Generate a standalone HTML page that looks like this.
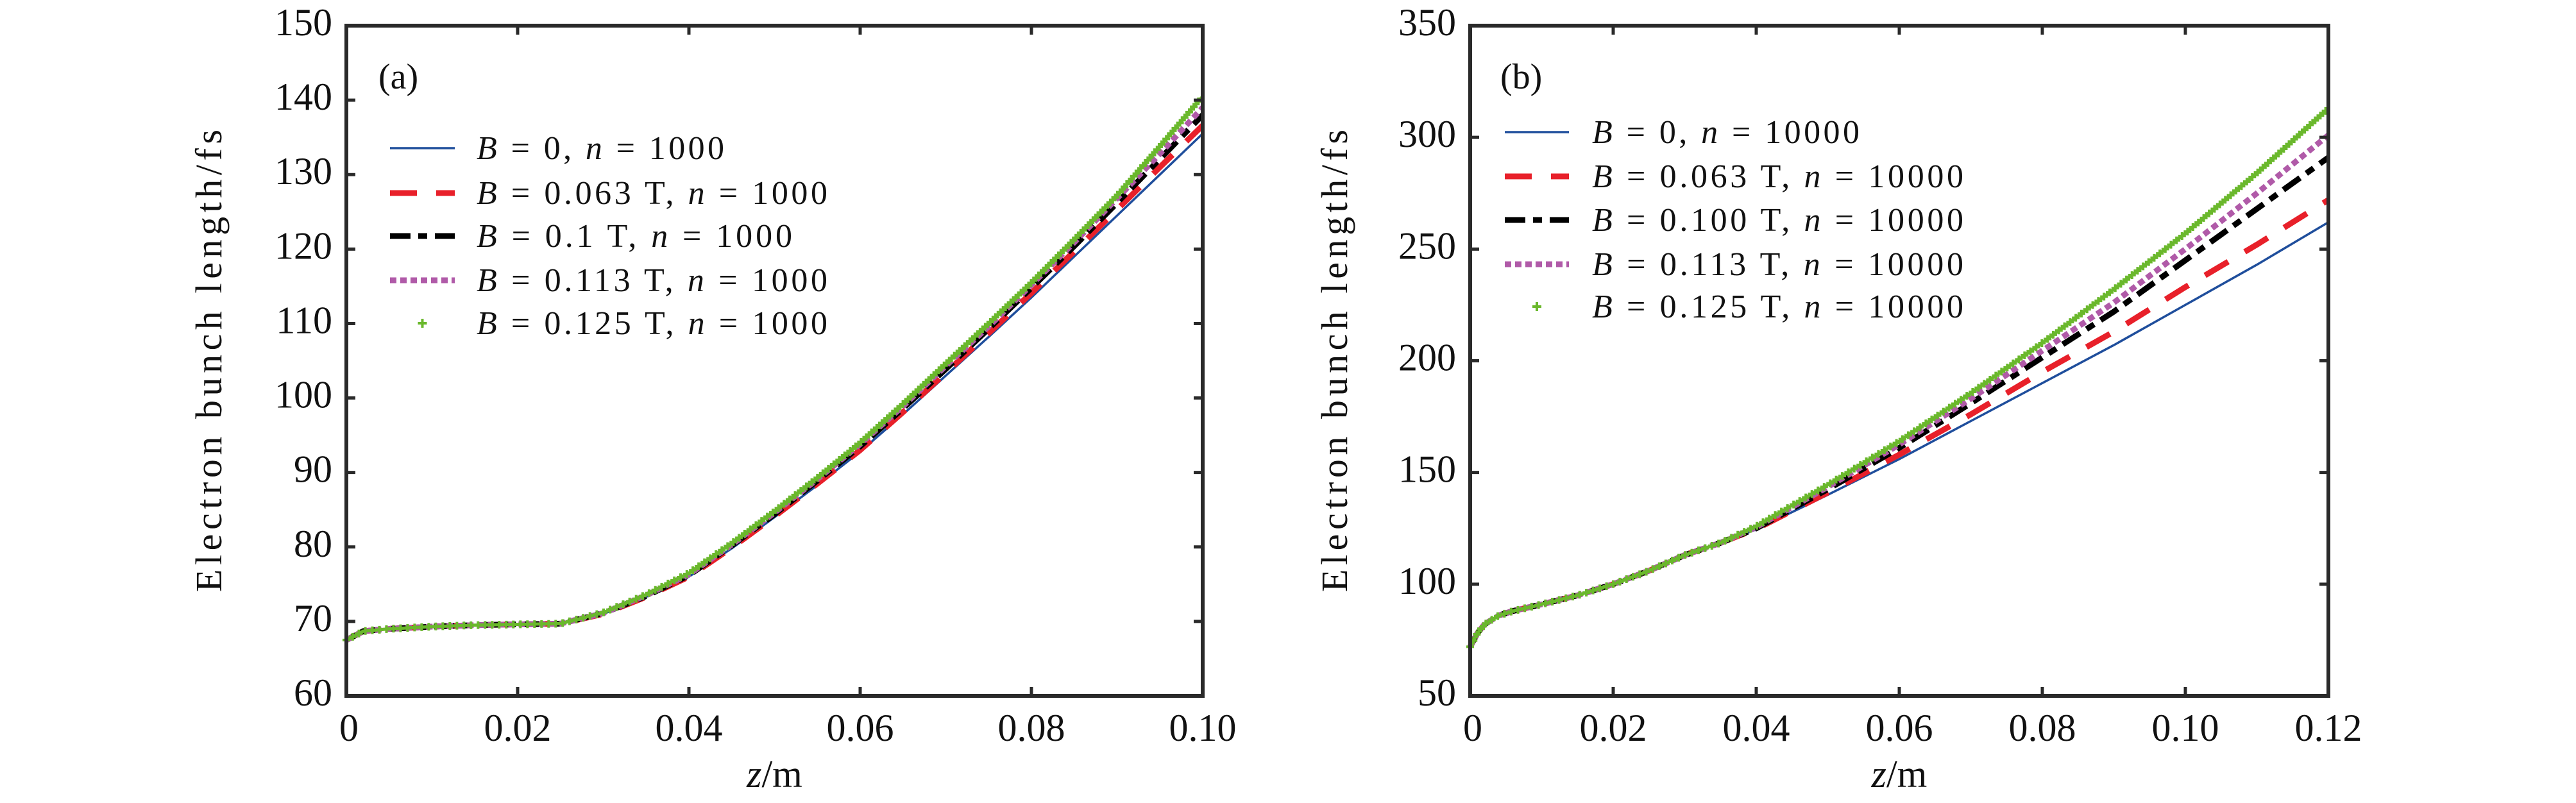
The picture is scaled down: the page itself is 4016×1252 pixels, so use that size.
<!DOCTYPE html>
<html><head><meta charset="utf-8"><style>
body{margin:0;background:#fff;overflow:hidden}
svg{display:block}
text{font-family:"Liberation Serif",serif;fill:#111}
</style></head><body>
<svg id="s" width="4016" height="1252" viewBox="0 0 4016 1252"></svg>
<script>
const zA=[0,0.002,0.005,0.01,0.015,0.02,0.025,0.03,0.035,0.04,0.045,0.05,0.055,0.06,0.065,0.07,0.075,0.08,0.085,0.09,0.095,0.1];
const aBlue=[67.5,68.7,69.0,69.3,69.5,69.6,69.7,71,73.3,76,79.8,84,88.3,92.8,97.8,103,108.2,113.5,119,124.5,130,135.5];
const aRed=[67.5,68.7,69.0,69.3,69.5,69.6,69.7,71,73.3,76,79.9,84.1,88.5,93,98.1,103.4,108.7,114.1,119.7,125.3,131,136.6];
const aBlack=[67.5,68.7,69.0,69.3,69.5,69.6,69.7,71.1,73.4,76.2,80.2,84.4,88.9,93.5,98.6,103.9,109.3,114.8,120.4,126.2,132.1,138];
const aPurple=[67.5,68.7,69.0,69.3,69.5,69.6,69.7,71.1,73.5,76.3,80.3,84.6,89.1,93.8,98.9,104.3,109.6,115.2,120.9,126.8,132.8,139];
const aGreen=[67.5,68.7,69.0,69.3,69.5,69.6,69.7,71.2,73.6,76.5,80.5,84.8,89.3,94,99.2,104.6,110,115.5,121.3,127.2,133.8,140.5];
const zB=[0,0.001,0.002,0.004,0.006,0.008,0.01,0.015,0.02,0.025,0.03,0.035,0.04,0.05,0.06,0.07,0.08,0.09,0.1,0.11,0.12];
const bBlue=[72,78,82,86,88,89.5,91,95,100,106,113,118.5,124.5,140,156,173,190,207,225,243,262];
const bRed=[72,78,82,86,88,89.5,91,95,100,106,113,118.5,124.7,141,158,176,195,213,233,252,272];
const bBlack=[72,78,82,86,88,89.5,91,95,100,106,113,118.5,125,142.5,161,181,201.5,222,245,268,291];
const bPurple=[72,78,82,86,88,89.5,91,95,100,106,113,118.5,125.5,143.5,162.5,183,204.5,226,250,275,301];
const bGreen=[72,78,82,86,88,89.5,91,95,100,106,113,118.5,126,144.5,164,185.5,208,232,257,284,313];
const aXTicks=["0","0.02","0.04","0.06","0.08","0.10"];
const aYTicks=["60","70","80","90","100","110","120","130","140","150"];
const bXTicks=["0","0.02","0.04","0.06","0.08","0.10","0.12"];
const bYTicks=["50","100","150","200","250","300","350"];
const legA=["B = 0, n = 1000","B = 0.063 T, n = 1000","B = 0.1 T, n = 1000","B = 0.113 T, n = 1000","B = 0.125 T, n = 1000"];
const legB=["B = 0, n = 10000","B = 0.063 T, n = 10000","B = 0.100 T, n = 10000","B = 0.113 T, n = 10000","B = 0.125 T, n = 10000"];

const NS="http://www.w3.org/2000/svg";
const svg=document.getElementById('s');
function mk(tag,attrs,parent){const e=document.createElementNS(NS,tag);for(const k in attrs)e.setAttribute(k,attrs[k]);(parent||svg).appendChild(e);return e;}
const styles=[
 {stroke:"#1f4e9c",w:3.5,dash:""},
 {stroke:"#e8202a",w:9,dash:"42 30"},
 {stroke:"#000",w:9,dash:"32 12 14 12"},
 {stroke:"#b05aa8",w:9,dash:"10 6"},
 {stroke:"#6ab82c",w:5,dash:""}
];
const names=["blue-b0","red-b063","black-b100","purple-b113","green-b125"];

function panel(cfg){
 const g=mk('g',{});
 
 
 const {x0,x1,y0,y1,xmax,ymin,ymax}=cfg;
 const sx=v=>x0+(v/xmax)*(x1-x0);
 const sy=v=>y1-(v-ymin)/(ymax-ymin)*(y1-y0);
 cfg.series.forEach((ys,i)=>{
  const d=cfg.z.map((z,k)=>(k?'L':'M')+sx(z).toFixed(1)+','+sy(ys[k]).toFixed(1)).join('');
  const st=styles[i];
  const p=mk('path',{d,fill:'none',stroke:st.stroke,'stroke-width':st.w,'stroke-dasharray':st.dash,'stroke-linejoin':'round'},g);
  
  
  if(i===4){
   const L=p.getTotalLength();
   for(let s=0;s<=L;s+=11){
    const pt=p.getPointAtLength(s);
    const m=mk('path',{d:`M${pt.x-6},${pt.y}h12M${pt.x},${pt.y-6}v12`,stroke:st.stroke,'stroke-width':4},g);
    
    
   }
  }
 });
 const fr=mk('rect',{x:x0,y:y0,width:x1-x0,height:y1-y0,fill:'none',stroke:'#2a2a2a','stroke-width':6},g);
 
 
 cfg.xt.forEach((t,i)=>{
  const v=i*xmax/(cfg.xt.length-1);const X=sx(v);
  mk('path',{d:`M${X},${y1}v-14M${X},${y0}v14`,stroke:'#2a2a2a','stroke-width':5},g);
  const tx=mk('text',{x:X+(i===0?4:0),y:y1+70,'font-size':60,'text-anchor':'middle'},g);
  tx.textContent=t;
  
  
 });
 cfg.yt.forEach((t,i)=>{
  const Y=y1-i*(y1-y0)/(cfg.yt.length-1);
  mk('path',{d:`M${x0},${Y}h14M${x1},${Y}h-14`,stroke:'#2a2a2a','stroke-width':5},g);
  const tx=mk('text',{x:x0-22,y:Y+15,'font-size':60,'text-anchor':'end'},g);
  tx.textContent=t;
  
  
 });
 const xl=mk('text',{x:(x0+x1)/2,y:1227,'font-size':60,'text-anchor':'middle'},g);
 xl.innerHTML='<tspan font-style="italic">z</tspan>/m';
 
 
 const yl=mk('text',{x:0,y:0,'font-size':58,'text-anchor':'middle',textLength:721,lengthAdjust:'spacing',transform:`translate(${cfg.ylx},${(y0+y1)/2}) rotate(-90)`},g);
 yl.textContent='Electron bunch length/fs';
 
 
 const pl=mk('text',{x:cfg.plx,y:138,'font-size':56},g);
 pl.textContent=cfg.label;
 
 
 cfg.leg.forEach((t,i)=>{
  const Y=cfg.legY[i];const st=styles[i];
  const le=mk('g',{},g);
  
  
  if(i===4){mk('path',{d:`M${(cfg.lx0+cfg.lx1)/2-7},${Y}h14M${(cfg.lx0+cfg.lx1)/2},${Y-7}v14`,stroke:st.stroke,'stroke-width':4},le);}
  else mk('path',{d:`M${cfg.lx0},${Y}H${cfg.lx1}`,stroke:st.stroke,'stroke-width':st.w,'stroke-dasharray':st.dash},le);
  const parts=t.split(', ');
  const tx=mk('text',{x:cfg.tx,y:Y+17,'font-size':52,textLength:cfg.legW[i],lengthAdjust:'spacing'},le);
  const b=parts[0].replace('B = ','');
  const n=parts[1].replace('n = ','');
  tx.innerHTML=`<tspan font-style="italic">B</tspan> = ${b}, <tspan font-style="italic">n</tspan> = ${n}`;
 });
}
panel({id:'panel-a',x0:540,x1:1875,y0:40,y1:1085,xmax:0.1,ymin:60,ymax:150,z:zA,series:[aBlue,aRed,aBlack,aPurple,aGreen],xt:aXTicks,yt:aYTicks,ylx:345,plx:590,label:'(a)',leg:legA,legY:[231,301,368,437,504],legW:[386,547,492,547,547],lx0:608,lx1:709,tx:743});
panel({id:'panel-b',x0:2292,x1:3630,y0:40,y1:1085,xmax:0.12,ymin:50,ymax:350,z:zB,series:[bBlue,bRed,bBlack,bPurple,bGreen],xt:bXTicks,yt:bYTicks,ylx:2100,plx:2339,label:'(b)',leg:legB,legY:[206,275,343,412,478],legW:[417,579,579,579,579],lx0:2346,lx1:2446,tx:2482});
</script>
</body></html>
